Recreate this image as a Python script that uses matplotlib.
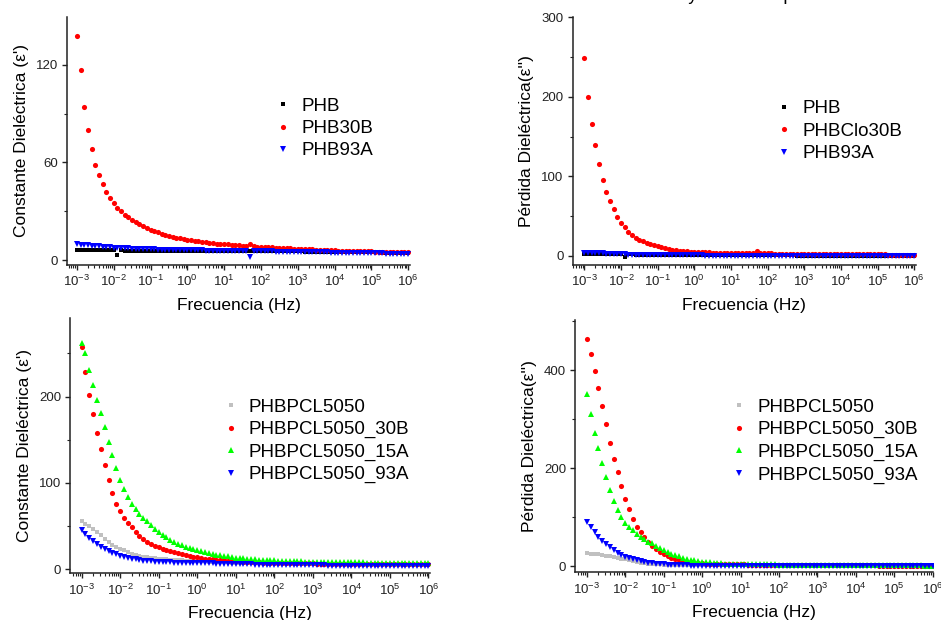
import numpy as np
import matplotlib
matplotlib.use("Agg")
import matplotlib.pyplot as plt
from matplotlib.ticker import LogLocator, MultipleLocator, NullFormatter

plt.rcParams['font.family'] = ['Liberation Sans', 'DejaVu Sans']
plt.rcParams['mathtext.fontset'] = 'custom'
plt.rcParams['mathtext.rm'] = 'Liberation Sans'
plt.rcParams['mathtext.it'] = 'Liberation Sans:italic'
plt.rcParams['mathtext.bf'] = 'Liberation Sans:bold'

# measurement sweep: 10 frequencies per decade, 1 mHz .. 1 MHz
freq = np.logspace(-3, 6, 91)

# ---- top left: constante dieléctrica ----
phb_eps1 = [6.2, 6.2, 6.1, 6.1, 6.1, 6.0, 6.0, 6.0, 6.0, 6.0,
            6.0, 3.3, 6.0, 5.9, 5.9, 5.9, 5.9, 5.9, 5.9, 5.9,
            5.9, 5.9, 5.9, 5.9, 5.8, 5.8, 5.8, 5.8, 5.8, 5.8,
            5.8, 5.8, 5.8, 5.8, 5.8, 5.7, 5.7, 5.7, 5.7, 5.7,
            5.7, 5.7, 5.7, 5.7, 5.6, 5.6, 5.6, 5.6, 5.6, 5.6,
            5.6, 5.5, 5.5, 5.5, 5.5, 5.4, 5.4, 5.4, 5.3, 5.3,
            5.3, 5.3, 5.2, 5.2, 5.2, 5.1, 5.1, 5.1, 5.0, 5.0,
            5.0, 5.0, 4.9, 4.9, 4.9, 4.8, 4.8, 4.8, 4.8, 4.7,
            4.7, 4.7, 4.7, 4.6, 4.6, 4.6, 4.6, 4.5, 4.5, 4.5,
            4.5]
phb30b_eps1 = [138, 117, 94, 80, 68, 58.5, 52, 46.5, 42, 38.2,
               35, 32, 30, 28, 26.2, 24.6, 23.2, 21.9, 20.8, 19.7,
               18.7, 17.8, 17.0, 16.2, 15.5, 14.9, 14.3, 13.8, 13.3, 12.9,
               12.5, 12.1, 11.8, 11.5, 11.2, 10.9, 10.6, 10.4, 10.2, 10.0,
               9.8, 9.6, 9.4, 9.2, 9.0, 8.9, 8.7, 9.6, 8.4, 8.3,
               8.1, 8.0, 7.9, 7.8, 7.6, 7.5, 7.4, 7.3, 7.2, 7.1,
               7.0, 6.9, 6.8, 6.7, 6.6, 6.5, 6.4, 6.3, 6.2, 6.1,
               6.0, 5.9, 5.85, 5.8, 5.7, 5.6, 5.55, 5.5, 5.4, 5.35,
               5.3, 5.25, 5.2, 5.15, 5.1, 5.05, 5.0, 5.0, 4.95, 4.9,
               4.9]
phb93a_eps1 = [9.6, 9.4, 9.2, 9.0, 8.8, 8.6, 8.4, 8.2, 8.0, 7.8,
               7.6, 7.5, 7.4, 7.3, 7.2, 7.0, 6.9, 6.8, 6.7, 6.65,
               6.6, 6.55, 6.5, 6.45, 6.4, 6.35, 6.3, 6.25, 6.2, 6.15,
               6.1, 6.05, 6.0, 6.0, 5.95, 5.9, 5.9, 5.85, 5.85, 5.8,
               5.8, 5.75, 5.7, 5.7, 5.65, 5.6, 5.55, 2.2, 5.5, 5.45,
               5.4, 5.35, 5.3, 5.3, 5.25, 5.2, 5.15, 5.1, 5.1, 5.05,
               5.0, 4.95, 4.9, 4.9, 4.85, 4.8, 4.75, 4.7, 4.7, 4.65,
               4.6, 4.55, 4.5, 4.5, 4.45, 4.4, 4.35, 4.3, 4.3, 4.25,
               4.2, 4.2, 4.15, 4.1, 4.05, 4.0, 4.0, 3.95, 3.9, 3.9,
               3.9]

# ---- top right: pérdida dieléctrica ----
phb_eps2 = [2.5, 2.5, 2.4, 2.4, 2.3, 2.3, 2.2, 2.2, 2.1, 2.1,
            2.0, -1.5, 1.9, 1.9, 1.8, 1.8, 1.7, 1.7, 1.6, 1.6,
            1.5, 1.5, 1.4, 1.4, 1.4, 1.3, 1.3, 1.3, 1.2, 1.2,
            1.2, 1.1, 1.1, 1.1, 1.0, 1.0, 1.0, 1.0, 0.9, 0.9,
            0.9, 0.9, 0.85, 0.85, 0.8, 0.8, 0.8, 0.75, 0.75, 0.75,
            0.7, 0.7, 0.7, 0.7, 0.65, 0.65, 0.65, 0.65, 0.6, 0.6,
            0.6, 0.6, 0.6, 0.55, 0.55, 0.55, 0.55, 0.55, 0.5, 0.5,
            0.5, 0.5, 0.5, 0.5, 0.5, 0.45, 0.45, 0.45, 0.45, 0.45,
            0.45, 0.45, 0.4, 0.4, 0.4, 0.4, 0.4, 0.4, 0.4, 0.4,
            0.4]
phbclo30b_eps2 = [249, 200, 166, 139, 116, 96, 80.5, 69, 58.5, 49.5,
                  42, 36, 30, 26, 23, 20.5, 18.5, 16.5, 15, 13.5,
                  12.2, 10.8, 9.8, 8.9, 8.1, 7.4, 6.8, 6.3, 5.8, 5.4,
                  5.1, 4.9, 4.7, 4.5, 4.4, 4.3, 4.2, 4.1, 4.0, 3.9,
                  3.8, 3.7, 3.65, 3.6, 3.55, 3.5, 3.45, 6.0, 3.35, 3.3,
                  3.2, 3.15, 3.1, 3.05, 3.0, 2.95, 2.9, 2.85, 2.8, 2.75,
                  2.7, 2.65, 2.6, 2.55, 2.5, 2.5, 2.45, 2.4, 2.4, 2.35,
                  2.3, 2.25, 2.2, 2.2, 2.15, 2.1, 2.1, 2.05, 2.0, 2.0,
                  1.95, 1.9, 1.9, 1.85, 1.8, 1.8, 1.75, 1.7, 1.7, 1.65,
                  1.6]
phb93a_eps2 = [3.8, 3.7, 3.6, 3.5, 3.4, 3.3, 3.1, 2.9, 2.7, 2.5,
               2.2, 2.0, 1.8, 1.6, 1.5, 1.4, 1.3, 1.2, 1.1, 1.0,
               1.0, 0.9, 0.9, 0.85, 0.8, 0.8, 0.75, 0.75, 0.7, 0.7,
               0.7, 0.65, 0.65, 0.6, 0.6, 0.6, 0.6, 0.55, 0.55, 0.55,
               0.55, 0.5, 0.5, 0.5, 0.5, 0.5, 0.5, 0.5, 0.5, 0.45,
               0.45, 0.45, 0.45, 0.45, 0.45, 0.4, 0.4, 0.4, 0.4, 0.4,
               0.4, 0.4, 0.4, 0.4, 0.35, 0.35, 0.35, 0.35, 0.35, 0.35,
               0.35, 0.35, 0.35, 0.3, 0.3, 0.3, 0.3, 0.3, 0.3, 0.3,
               0.3, 0.3, 0.3, 0.3, 0.3, 0.25, 0.25, 0.25, 0.25, 0.25,
               0.25]

# ---- bottom left: constante dieléctrica, mezclas PHB/PCL ----
pcl_eps1 = [56, 53, 50, 46.5, 43, 39.5, 35.5, 31.5, 28.5, 26,
            24, 22, 20, 18.3, 17, 15.7, 14.6, 13.8, 13.2, 12.7,
            12.3, 11.9, 11.6, 11.3, 11.0, 10.7, 10.4, 10.2, 10.0, 9.7,
            9.5, 9.3, 9.1, 8.9, 8.7, 8.5, 8.4, 8.2, 8.1, 7.9,
            7.8, 7.7, 7.6, 7.5, 7.4, 7.3, 7.2, 7.1, 7.0, 6.95,
            6.9, 6.85, 6.8, 6.75, 6.7, 6.65, 6.6, 6.55, 6.5, 6.45,
            6.4, 6.35, 6.3, 6.3, 6.25, 6.2, 6.15, 6.1, 6.1, 6.05,
            6.0, 6.0, 5.95, 5.9, 5.9, 5.85, 5.8, 5.8, 5.75, 5.75,
            5.7, 5.7, 5.65, 5.65, 5.6, 5.6, 5.55, 5.55, 5.5, 5.5,
            5.5]
pcl30b_eps1 = [257, 229, 202, 180, 158, 139, 121, 103, 88, 76,
               67, 60, 54, 48.5, 43, 38.5, 35, 32, 29.5, 27.3,
               25.4, 23.8, 22.4, 21, 19.7, 18.5, 17.4, 16.4, 15.5, 14.6,
               13.8, 13.0, 12.4, 12.0, 11.5, 11.1, 10.7, 10.3, 10.0, 9.7,
               9.4, 9.1, 8.8, 8.6, 8.4, 8.2, 8.0, 7.85, 7.7, 7.55,
               7.4, 7.3, 7.2, 7.15, 7.1, 7.0, 6.95, 6.9, 6.85, 6.8,
               6.8, 6.75, 6.7, 6.65, 6.6, 6.55, 6.5, 6.5, 6.45, 6.4,
               6.4, 6.35, 6.3, 6.3, 6.25, 6.2, 6.2, 6.15, 6.15, 6.1,
               6.1, 6.05, 6.05, 6.0, 6.0, 5.95, 5.95, 5.9, 5.9, 5.9,
               5.9]
pcl15a_eps1 = [262, 250, 231, 213, 196, 181, 165, 148, 132, 117,
               104, 93, 84, 76, 69.5, 64.5, 60, 55.5, 51, 47,
               43, 40, 37, 34.5, 32, 29.8, 28, 26.3, 24.8, 23.4,
               22.2, 21.1, 20, 18.9, 18, 17.1, 16.3, 15.6, 14.9, 14.3,
               13.7, 13.2, 12.7, 12.3, 11.9, 11.6, 11.3, 11.0, 10.8, 10.5,
               10.3, 10.1, 9.9, 9.7, 9.5, 9.4, 9.2, 9.1, 9.0, 8.9,
               8.8, 8.7, 8.6, 8.55, 8.5, 8.4, 8.35, 8.3, 8.25, 8.2,
               8.1, 8.05, 8.0, 7.95, 7.9, 7.85, 7.8, 7.8, 7.75, 7.7,
               7.7, 7.7, 7.65, 7.6, 7.6, 7.6, 7.55, 7.55, 7.5, 7.5,
               7.5]
pcl93a_eps1 = [45.5, 40.5, 36.5, 32.5, 29, 26, 23.5, 21.2, 19.2, 17.3,
               15.7, 14.3, 13.1, 12.2, 11.4, 10.7, 10.1, 9.7, 9.3, 9.0,
               8.7, 8.5, 8.3, 8.1, 7.9, 7.7, 7.6, 7.5, 7.4, 7.3,
               7.2, 7.1, 7.0, 6.9, 6.8, 6.7, 6.6, 6.5, 6.4, 6.3,
               6.2, 6.1, 6.0, 5.9, 5.7, 5.5, 5.3, 5.1, 5.0, 4.9,
               4.8, 4.75, 4.7, 4.7, 4.65, 4.6, 4.6, 4.55, 4.55, 4.5,
               4.5, 4.5, 4.45, 4.45, 4.4, 4.4, 4.4, 4.35, 4.35, 4.3,
               4.3, 4.3, 4.3, 4.25, 4.25, 4.25, 4.2, 4.2, 4.2, 4.2,
               4.2, 4.15, 4.15, 4.15, 4.15, 4.1, 4.1, 4.1, 4.1, 4.1,
               4.1]

# ---- bottom right: pérdida dieléctrica, mezclas PHB/PCL ----
pcl_eps2 = [26, 25.2, 24.5, 23.5, 22.5, 21, 19.5, 18, 16.5, 15,
            13.5, 11.7, 10, 8.5, 7, 6, 5, 4.3, 3.8, 3.4,
            3.0, 2.8, 2.6, 2.5, 2.4, 2.3, 2.2, 2.1, 2.0, 1.9,
            1.8, 1.7, 1.7, 1.6, 1.6, 1.5, 1.5, 1.4, 1.4, 1.3,
            1.3, 1.25, 1.2, 1.2, 1.15, 1.1, 1.1, 1.05, 1.0, 1.0,
            0.95, 0.9, 0.9, 0.85, 0.85, 0.8, 0.8, 0.75, 0.75, 0.7,
            0.7, 0.7, 0.65, 0.65, 0.6, 0.6, 0.6, 0.55, 0.55, 0.55,
            0.5, 0.5, 0.5, 0.5, 0.45, 0.45, 0.45, 0.45, 0.4, 0.4,
            0.4, 0.4, 0.4, 0.35, 0.35, 0.35, 0.35, 0.35, 0.3, 0.3,
            0.3]
pcl30b_eps2 = [463, 433, 398, 363, 326, 289, 251, 218, 191, 163,
               137, 116, 95, 80, 69, 59, 50, 41, 35, 29,
               24, 19.5, 16, 13.5, 11.5, 10, 8.8, 7.8, 7.0, 6.2,
               5.5, 5.1, 4.8, 4.5, 4.2, 4.0, 3.8, 3.6, 3.5, 3.3,
               3.2, 3.1, 3.0, 2.9, 2.8, 2.7, 2.6, 2.5, 2.4, 2.3,
               2.2, 2.15, 2.1, 2.0, 1.95, 1.9, 1.8, 1.75, 1.7, 1.65,
               1.6, 1.55, 1.5, 1.5, 1.45, 1.4, 1.35, 1.3, 1.3, 1.25,
               1.2, 1.15, 1.15, 1.1, 1.1, 1.05, 1.0, 1.0, 0.95, 0.95,
               0.9, 0.9, 0.85, 0.85, 0.8, 0.8, 0.8, 0.75, 0.75, 0.7,
               0.7]
pcl15a_eps2 = [352, 310, 272, 240, 211, 182, 156, 133, 115, 100,
               87, 80, 73, 66, 60, 55, 50, 46, 41.5, 37,
               33, 29, 25.5, 22.5, 19.5, 17, 15, 13, 11.5, 10,
               8.8, 8.0, 7.2, 6.5, 5.9, 5.4, 5.0, 4.7, 4.4, 4.2,
               4.0, 3.9, 3.8, 3.7, 3.6, 3.5, 3.4, 3.3, 3.2, 3.1,
               3.0, 2.9, 2.8, 2.75, 2.7, 2.6, 2.5, 2.4, 2.3, 2.25,
               2.2, 2.15, 2.1, 2.0, 1.95, 1.9, 1.85, 1.8, 1.7, 1.65,
               1.6, 1.55, 1.5, 1.5, 1.45, 1.4, 1.35, 1.3, 1.3, 1.25,
               1.2, 1.2, 1.15, 1.15, 1.1, 1.1, 1.05, 1.05, 1.0, 1.0,
               1.0]
pcl93a_eps2 = [89, 80, 69.5, 60, 52, 45, 38, 32.5, 27, 22,
               18, 15.5, 13.3, 11.5, 9.8, 8.3, 7.0, 5.9, 5.0, 4.2,
               3.5, 2.9, 2.4, 2.0, 1.7, 1.4, 1.2, 1.0, 0.95, 0.9,
               0.85, 0.8, 0.8, 0.75, 0.75, 0.7, 0.7, 0.65, 0.65, 0.6,
               0.6, 0.6, 0.55, 0.55, 0.55, 0.5, 0.5, 0.5, 0.5, 0.45,
               0.45, 0.45, 0.45, 0.45, 0.4, 0.4, 0.4, 0.4, 0.4, 0.4,
               0.4, 0.35, 0.35, 0.35, 0.35, 0.35, 0.35, 0.35, 0.3, 0.3,
               0.3, 0.3, 0.3, 0.3, 0.3, 0.3, 0.3, 0.3, 0.3, 0.3,
               0.3, 0.3, 0.3, 0.3, 0.25, 0.25, 0.25, 0.25, 0.25, 0.25,
               0.25]

fig = plt.figure(figsize=(9.41, 6.2), dpi=100)


def style_axes(ax, ylim, major, minor, ylabel, xlim):
    ax.set_xscale('log')
    ax.set_xlim(10 ** xlim[0], 10 ** xlim[1])
    ax.set_ylim(*ylim)
    ax.xaxis.set_major_locator(LogLocator(base=10, numticks=20))
    ax.xaxis.set_minor_locator(LogLocator(base=10, subs=np.arange(2, 10), numticks=20))
    ax.xaxis.set_minor_formatter(NullFormatter())
    ax.yaxis.set_major_locator(MultipleLocator(major))
    ax.yaxis.set_minor_locator(MultipleLocator(minor))
    for s in ['top', 'right']:
        ax.spines[s].set_visible(False)
    for s in ['left', 'bottom']:
        ax.spines[s].set_linewidth(1.1)
        ax.spines[s].set_color('#222222')
    ax.tick_params(which='major', direction='out', length=3.5, width=1.0,
                   labelsize=9.5, pad=3, colors='#222222')
    ax.tick_params(which='minor', direction='out', length=2, width=0.8, colors='#222222')
    ax.set_xlabel('Frecuencia (Hz)', fontsize=12.5, labelpad=6)
    ax.set_ylabel(ylabel, fontsize=12.5, labelpad=5)


leg_kw = dict(frameon=False, fontsize=13.5, handlelength=0.8, handletextpad=0.55,
              labelspacing=0.28, borderpad=0, borderaxespad=0, loc='upper left')

# top left
ax1 = fig.add_axes([0.0712, 0.5726, 0.3645, 0.4])
ax1.plot(freq, phb_eps1, 's', color='black', ms=3.4, mew=0, label='PHB')
ax1.plot(freq, phb30b_eps1, 'o', color='#ff0000', ms=3.7, mew=0, label='PHB30B')
ax1.plot(freq, phb93a_eps1, 'v', color='#0000ff', ms=4.0, mew=0, label='PHB93A')
style_axes(ax1, (-3, 149.4), 60, 30, "Constante Dieléctrica (ε')", (-3.27, 6.05))
ax1.legend(bbox_to_anchor=(0.609, 0.675), **leg_kw)

# top right
ax2 = fig.add_axes([0.6086, 0.5726, 0.3648, 0.3995])
ax2.plot(freq, phb_eps2, 's', color='black', ms=3.4, mew=0, label='PHB')
ax2.plot(freq, phbclo30b_eps2, 'o', color='#ff0000', ms=3.7, mew=0, label='PHBClo30B')
ax2.plot(freq, phb93a_eps2, 'v', color='#0000ff', ms=4.0, mew=0, label='PHB93A')
style_axes(ax2, (-11.3, 300), 100, 50, "Pérdida Dieléctrica(ε'')", (-3.32, 6.05))
ax2.legend(bbox_to_anchor=(0.5945, 0.665), **leg_kw)

# bottom left
ax3 = fig.add_axes([0.0744, 0.0753, 0.3826, 0.4118])
ax3.plot(freq, pcl_eps1, 's', color='#c0c0c0', ms=3.4, mew=0, label='PHBPCL5050')
ax3.plot(freq, pcl30b_eps1, 'o', color='#ff0000', ms=3.7, mew=0, label='PHBPCL5050_30B')
ax3.plot(freq, pcl15a_eps1, '^', color='#00ff00', ms=4.2, mew=0, label='PHBPCL5050_15A')
ax3.plot(freq, pcl93a_eps1, 'v', color='#0000ff', ms=4.0, mew=0, label='PHBPCL5050_93A')
style_axes(ax3, (-4.6, 291), 100, 50, "Constante Dieléctrica (ε')", (-3.30, 6.04))
ax3.legend(bbox_to_anchor=(0.426, 0.684), **leg_kw)

# bottom right
ax4 = fig.add_axes([0.6114, 0.0769, 0.3801, 0.4069])
ax4.plot(freq, pcl_eps2, 's', color='#c0c0c0', ms=3.4, mew=0, label='PHBPCL5050')
ax4.plot(freq, pcl30b_eps2, 'o', color='#ff0000', ms=3.7, mew=0, label='PHBPCL5050_30B')
ax4.plot(freq, pcl15a_eps2, '^', color='#00ff00', ms=4.2, mew=0, label='PHBPCL5050_15A')
ax4.plot(freq, pcl93a_eps2, 'v', color='#0000ff', ms=4.0, mew=0, label='PHBPCL5050_93A')
style_axes(ax4, (-12.9, 502), 200, 100, "Pérdida Dieléctrica(ε'')", (-3.30, 6.01))
ax4.legend(bbox_to_anchor=(0.4375, 0.688), **leg_kw)

# title of the page, cut off by the top edge
fig.text(0.72, 1.0, 'Constante Dieléctrica y Factor de pérdida', ha='center',
         va='baseline', fontsize=13)

fig.savefig('out.png', dpi=100)
